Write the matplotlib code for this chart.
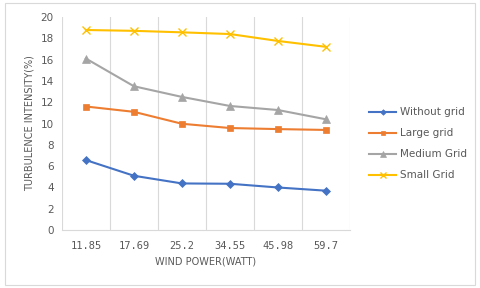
import matplotlib
matplotlib.use("Agg")
import matplotlib.pyplot as plt
from matplotlib.patches import Rectangle

categories = ["11.85", "17.69", "25.2", "34.55", "45.98", "59.7"]
without_grid = [6.57, 5.1, 4.38, 4.35, 4.0, 3.7]
large_grid = [11.6, 11.1, 9.98, 9.58, 9.48, 9.4]
medium_grid = [16.1, 13.5, 12.5, 11.65, 11.27, 10.4]
small_grid = [18.78, 18.7, 18.56, 18.4, 17.75, 17.2]

series = [
    ("Without grid", without_grid, "#4472C4", "D", 4),
    ("Large grid", large_grid, "#ED7D31", "s", 5),
    ("Medium Grid", medium_grid, "#A5A5A5", "^", 5.5),
    ("Small Grid", small_grid, "#FFC000", "x", 6),
]

fig = plt.figure(figsize=(4.8, 2.88), dpi=100)
fig.patches.append(Rectangle((0.010, 0.012), 0.980, 0.976, transform=fig.transFigure,
                             fill=False, edgecolor="#D9D9D9", linewidth=0.8))
ax = fig.add_axes([0.129, 0.201, 0.600, 0.740])

x = list(range(len(categories)))
for name, vals, col, mk, ms in series:
    ax.plot(x, vals, color=col, marker=mk, markersize=ms, linewidth=1.5,
            label=name, markeredgewidth=1.0 if mk == "x" else 0.5)

ax.set_xlim(-0.5, len(categories) - 0.5)
ax.set_ylim(0, 20)
ax.set_yticks(range(0, 21, 2))
ax.set_xticks(x)
ax.set_xticklabels(categories, family="DejaVu Sans Mono", fontsize=7.5, color="#404040")
for b in range(len(categories) + 1):
    ax.axvline(b - 0.5, color="#D9D9D9", linewidth=0.8, zorder=0)
for s in ["top", "right", "left"]:
    ax.spines[s].set_visible(False)
ax.spines["bottom"].set_color("#D9D9D9")
ax.tick_params(axis="both", length=0, colors="#595959", labelsize=7.5, pad=8)
ax.tick_params(axis="y", pad=6)

ax.set_xlabel("WIND POWER(WATT)", fontsize=7, color="#595959", labelpad=4)
ax.set_ylabel("TURBULENCE INTENSITY(%)", fontsize=7, color="#595959", labelpad=4)

leg = ax.legend(loc="center left", bbox_to_anchor=(1.035, 0.405), frameon=False,
                fontsize=7.5, handlelength=2.6, labelspacing=1.05, handletextpad=0.3,
                markerscale=0.7)
for t in leg.get_texts():
    t.set_color("#595959")

fig.savefig("out.png", dpi=100)
